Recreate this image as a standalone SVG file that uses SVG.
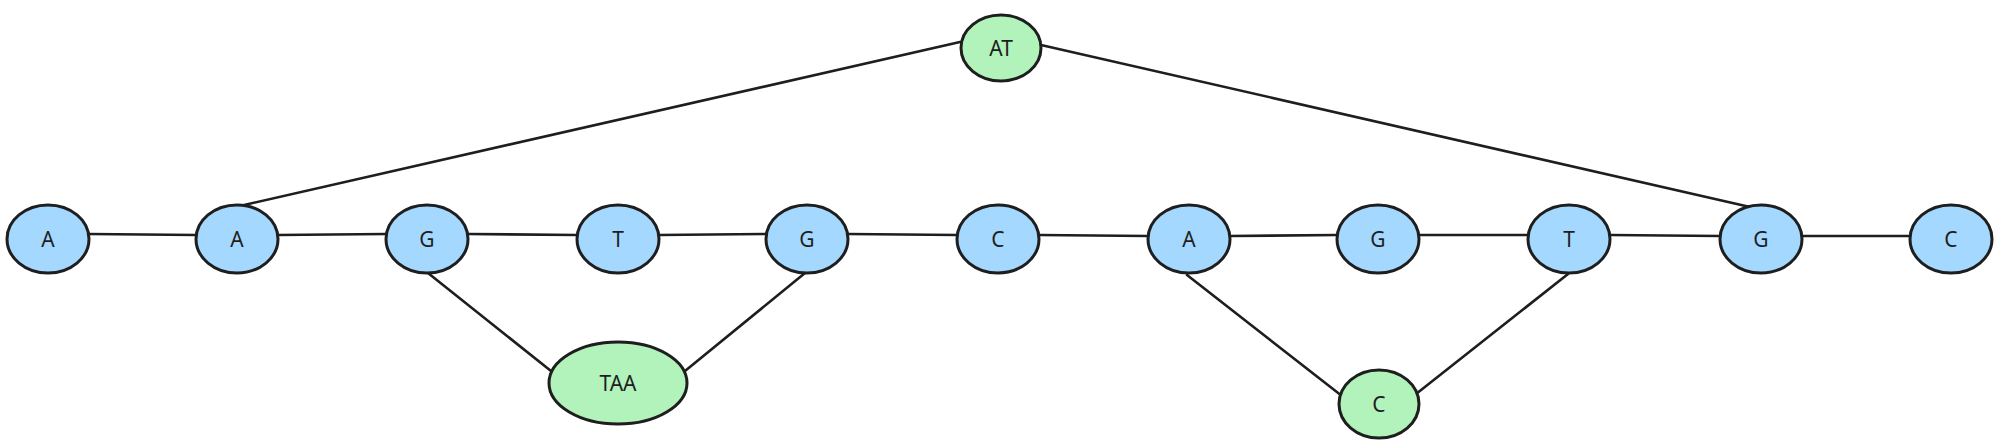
<svg xmlns="http://www.w3.org/2000/svg" width="1999" height="444" viewBox="0 0 1999 444">
<style>
.edge{stroke:#1e1e1e;stroke-width:2.6;fill:none;stroke-linecap:round}
.n ellipse{stroke:#1e1e1e;stroke-width:3}
.blue ellipse{fill:#a5d8ff}
.green ellipse{fill:#b2f2bb}
.n text{font-family:"Noto Sans","DejaVu Sans",sans-serif;font-size:21px;fill:#1e1e1e;text-anchor:middle;dominant-baseline:central}
</style>
<rect width="1999" height="444" fill="#ffffff"/>
<g id="connectors">
<line class="edge" x1="89" y1="234" x2="196" y2="235"/>
<line class="edge" x1="278" y1="235" x2="386" y2="234"/>
<line class="edge" x1="468" y1="234" x2="577" y2="235"/>
<line class="edge" x1="659" y1="235" x2="766" y2="234"/>
<line class="edge" x1="848" y1="234" x2="957" y2="235"/>
<line class="edge" x1="1039" y1="235" x2="1148" y2="236"/>
<line class="edge" x1="1230" y1="236" x2="1337" y2="235"/>
<line class="edge" x1="1419" y1="235" x2="1528" y2="235"/>
<line class="edge" x1="1610" y1="235" x2="1720" y2="236"/>
<line class="edge" x1="1802" y1="236" x2="1910" y2="236"/>
<line class="edge" x1="244" y1="205" x2="960" y2="42"/>
<line class="edge" x1="1041" y1="45" x2="1750" y2="207"/>
<line class="edge" x1="428" y1="273" x2="551" y2="371"/>
<line class="edge" x1="805" y1="273" x2="685" y2="371"/>
<line class="edge" x1="1187" y1="275" x2="1342" y2="396"/>
<line class="edge" x1="1568" y1="274" x2="1416" y2="394"/>
</g>
<g id="node-a1" class="n blue"><ellipse cx="48" cy="239" rx="41" ry="34"/><text x="48" y="239">A</text></g>
<g id="node-a2" class="n blue"><ellipse cx="237" cy="239" rx="41" ry="34"/><text x="237" y="239">A</text></g>
<g id="node-g1" class="n blue"><ellipse cx="427" cy="239" rx="41" ry="34"/><text x="427" y="239">G</text></g>
<g id="node-t1" class="n blue"><ellipse cx="618" cy="239" rx="41" ry="34"/><text x="618" y="239">T</text></g>
<g id="node-g2" class="n blue"><ellipse cx="807" cy="239" rx="41" ry="34"/><text x="807" y="239">G</text></g>
<g id="node-c1" class="n blue"><ellipse cx="998" cy="239" rx="41" ry="34"/><text x="998" y="239">C</text></g>
<g id="node-a3" class="n blue"><ellipse cx="1189" cy="239" rx="41" ry="34"/><text x="1189" y="239">A</text></g>
<g id="node-g3" class="n blue"><ellipse cx="1378" cy="239" rx="41" ry="34"/><text x="1378" y="239">G</text></g>
<g id="node-t2" class="n blue"><ellipse cx="1569" cy="239" rx="41" ry="34"/><text x="1569" y="239">T</text></g>
<g id="node-g4" class="n blue"><ellipse cx="1761" cy="239" rx="41" ry="34"/><text x="1761" y="239">G</text></g>
<g id="node-c2" class="n blue"><ellipse cx="1951" cy="239" rx="41" ry="34"/><text x="1951" y="239">C</text></g>
<g id="node-at" class="n green"><ellipse cx="1001" cy="48" rx="40" ry="33"/><text x="1001" y="48">AT</text></g>
<g id="node-taa" class="n green"><ellipse cx="618" cy="383" rx="69" ry="41"/><text x="618" y="383">TAA</text></g>
<g id="node-c3" class="n green"><ellipse cx="1379" cy="404" rx="40" ry="34"/><text x="1379" y="404">C</text></g>
</svg>
